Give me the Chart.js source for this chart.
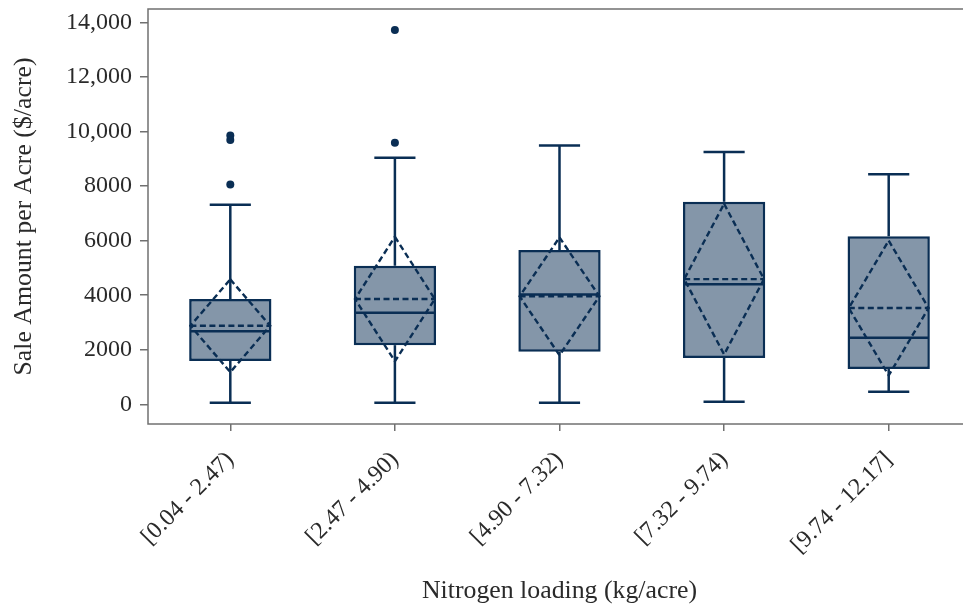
<!DOCTYPE html>
<html>
<head>
<meta charset="utf-8">
<script src="https://cdn.jsdelivr.net/npm/chart.js@4/dist/chart.umd.min.js"></script>
<style>
  html, body { margin: 0; padding: 0; overflow: hidden; background: #fff; }
  #wrap { width: 975px; height: 609px; }
</style>
</head>
<body>
<div id="wrap"><canvas id="chart" width="975" height="609"></canvas></div>
<script>
// Sale price per acre, grouped by nitrogen loading bins
const categories = ['[0.04 - 2.47)', '[2.47 - 4.90)', '[4.90 - 7.32)', '[7.32 - 9.74)', '[9.74 - 12.17]'];
const lowerWhisker = [60, 60, 60, 95, 465];
const q1 = [1590, 2170, 1930, 1700, 1295];
const median = [2680, 3360, 4030, 4400, 2440];
const q3 = [3860, 5080, 5655, 7425, 6160];
const upperWhisker = [7315, 9040, 9490, 9250, 8430];
const mean = [2880, 3860, 3960, 4590, 3530];
const stdDev = [1700, 2280, 2160, 2760, 2470];
const outliers = [[9850, 9690, 8060], [13720, 9590], [], [], []];

const yTickValues = [0, 2000, 4000, 6000, 8000, 10000, 12000, 14000];
const yTickLabels = ['0', '2000', '4000', '6000', '8000', '10,000', '12,000', '14,000'];

const navy = 'rgb(10, 46, 84)';
const navyFill = 'rgba(10, 46, 84, 0.5)';
const frameGrey = '#707070';
const textColor = '#2a2a2a';
const serif = "'Liberation Serif', 'Times New Roman', serif";

const outlierPoints = [];
outliers.forEach((vals, i) => vals.forEach(v => outlierPoints.push({ x: categories[i], y: v })));

// Whiskers, medians, mean lines and mean ± SD diamonds on top of the boxes
const boxExtras = {
  id: 'boxExtras',
  afterDatasetsDraw(chart) {
    const { ctx } = chart;
    const xs = chart.scales.x, ys = chart.scales.y;
    const bars = chart.getDatasetMeta(0).data;
    const lw = 2.5;
    ctx.save();
    ctx.strokeStyle = navy;
    ctx.lineCap = 'butt';
    const seg = (x1, y1, x2, y2) => { ctx.beginPath(); ctx.moveTo(x1, y1); ctx.lineTo(x2, y2); ctx.stroke(); };
    categories.forEach((c, i) => {
      const cx = xs.getPixelForValue(i);
      const half = bars[i].width / 2;
      const inner = half - lw / 2;
      const capHalf = half / 2;
      const yQ1 = ys.getPixelForValue(q1[i]);
      const yQ3 = ys.getPixelForValue(q3[i]);
      const yLo = ys.getPixelForValue(lowerWhisker[i]);
      const yHi = ys.getPixelForValue(upperWhisker[i]);
      const yMed = ys.getPixelForValue(median[i]);
      const yMean = ys.getPixelForValue(mean[i]);
      const ySdHi = ys.getPixelForValue(mean[i] + stdDev[i]);
      const ySdLo = ys.getPixelForValue(mean[i] - stdDev[i]);

      ctx.setLineDash([]);
      ctx.lineWidth = lw;
      seg(cx, yQ3, cx, yHi);
      seg(cx, yQ1, cx, yLo);
      seg(cx - capHalf, yHi, cx + capHalf, yHi);
      seg(cx - capHalf, yLo, cx + capHalf, yLo);
      seg(cx - inner, yMed, cx + inner, yMed);

      ctx.setLineDash([6, 3.5]);
      ctx.lineWidth = 2.4;
      seg(cx - inner, yMean, cx + inner, yMean);
      ctx.beginPath();
      ctx.moveTo(cx, ySdHi);
      ctx.lineTo(cx + inner, yMean);
      ctx.lineTo(cx, ySdLo);
      ctx.lineTo(cx - inner, yMean);
      ctx.closePath();
      ctx.stroke();
    });
    ctx.restore();
  }
};

// Plot frame
const frame = {
  id: 'frame',
  afterDraw(chart) {
    const { ctx, chartArea: a } = chart;
    ctx.save();
    ctx.strokeStyle = frameGrey;
    ctx.lineWidth = 1.5;
    ctx.strokeRect(a.left, a.top, a.right - a.left, a.bottom - a.top);
    ctx.restore();
  }
};

new Chart(document.getElementById('chart'), {
  type: 'bar',
  data: {
    labels: categories,
    datasets: [
      {
        label: 'IQR',
        data: categories.map((c, i) => [q1[i], q3[i]]),
        backgroundColor: navyFill,
        borderColor: navy,
        borderWidth: 2.5,
        borderSkipped: false,
        barPercentage: 0.5,
        categoryPercentage: 1
      },
      {
        type: 'line',
        label: 'Outliers',
        data: outlierPoints,
        showLine: false,
        pointRadius: 4,
        pointBackgroundColor: navy,
        pointBorderColor: navy,
        pointBorderWidth: 0
      }
    ]
  },
  options: {
    responsive: false,
    animation: false,
    devicePixelRatio: 1,
    layout: { padding: { top: 9, left: 0, right: 0, bottom: 0 } },
    plugins: { legend: { display: false }, tooltip: { enabled: false } },
    scales: {
      x: {
        type: 'category',
        offset: true,
        border: { display: false },
        grid: { drawOnChartArea: false, drawTicks: true, tickLength: 7, color: frameGrey, lineWidth: 1.5, offset: false },
        ticks: {
          minRotation: 45, maxRotation: 45, padding: 15,
          color: textColor, font: { family: serif, size: 24 }
        },
        title: {
          display: true, text: 'Nitrogen loading (kg/acre)', color: textColor,
          font: { family: serif, size: 25.8 }, padding: { top: 0, bottom: 2 }
        },
        afterFit(s) { s.height = 185; s.paddingLeft = 0; s.paddingRight = 0; }
      },
      y: {
        min: -720, max: 14490,
        border: { display: false },
        grid: { drawOnChartArea: false, drawTicks: true, tickLength: 8, color: frameGrey, lineWidth: 1.5 },
        afterBuildTicks(s) { s.ticks = yTickValues.map(v => ({ value: v })); },
        ticks: {
          padding: 8, color: textColor, font: { family: serif, size: 24 },
          callback: (v) => yTickLabels[yTickValues.indexOf(v)]
        },
        title: {
          display: true, text: 'Sale Amount per Acre ($/acre)', color: textColor,
          font: { family: serif, size: 25.8 }, padding: { top: 9, bottom: 0 }
        },
        afterFit(s) { s.width = 148; s.paddingTop = 0; s.paddingBottom = 0; }
      }
    }
  },
  plugins: [boxExtras, frame]
});
</script>
</body>
</html>
